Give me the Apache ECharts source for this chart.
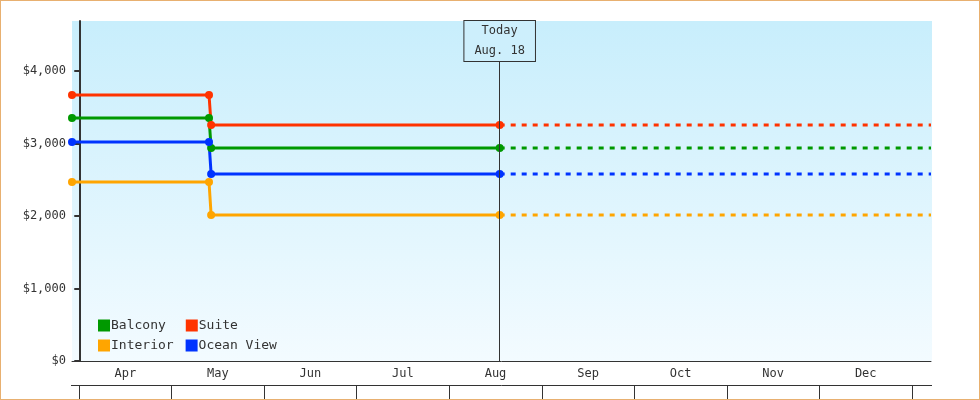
<!DOCTYPE html>
<html><head><meta charset="utf-8">
<script src="https://cdn.jsdelivr.net/npm/echarts@6/dist/echarts.min.js"></script>
<style>html,body{margin:0;padding:0;background:#fff}#c{width:978px;height:398px;border:1px solid #e8b070}</style>
</head><body><div id="c"></div>
<script>
// x values are days counted from Apr 1
const months = ['Apr','May','Jun','Jul','Aug','Sep','Oct','Nov','Dec'];
const xMin = -2.4, xMax = 281.6, today = 139, dropA = 42.9, dropB = 43.6;
const names = ['Balcony','Suite','Interior','Ocean View'];
const colors = ['#009900','#ff3300','#ffa500','#0033ff'];
const before = [3352, 3669, 2469, 3021];
const after = [2938, 3255, 2014, 2579];
const yTicks = [0,1000,2000,3000,4000];
const font = 'DejaVu Sans Mono';

const series = [];
names.forEach((n,i)=>{
  series.push({name:n,type:'line',xAxisIndex:0,yAxisIndex:0,color:colors[i],
    data:[[xMin,before[i]],[dropA,before[i]],[dropB,after[i]],[today,after[i]]],
    symbol:'circle',symbolSize:8,lineStyle:{width:3,color:colors[i]},itemStyle:{color:colors[i]},z:3});
  series.push({name:n,type:'line',xAxisIndex:0,yAxisIndex:0,color:colors[i],
    data:[[today,after[i]],[xMax,after[i]]],showSymbol:false,symbol:'none',
    lineStyle:{width:3,type:[5,6],color:colors[i]},z:2});
});
series[0].markLine = {silent:true,symbol:'none',animation:false,
  lineStyle:{color:'#333',width:1,type:'solid'},
  label:{show:true,position:'end',distance:0,formatter:'Today\nAug. 18',fontFamily:font,fontSize:12,color:'#333',
    lineHeight:20,padding:[0,10,0,10],borderColor:'#333',borderWidth:1,backgroundColor:'#cdeffc'},
  data:[[{coord:[today,0]},{coord:[today,(360-60)/72.5*1000]}]]};
series.push({type:'bar',xAxisIndex:1,yAxisIndex:1,data:months.map(()=>0),silent:true});

const chart = echarts.init(document.getElementById('c'));
chart.setOption({
  animation:false,
  graphic:[{type:'rect',z:-10,shape:{x:71,y:20,width:860,height:340},
    style:{fill:new echarts.graphic.LinearGradient(0,0,0,1,[{offset:0,color:'#c8eefc'},{offset:1,color:'#f3fbff'}])}},
    {type:'line',z:10,shape:{x1:70,y1:384.5,x2:931,y2:384.5},style:{stroke:'#333',lineWidth:1}}],
  legend:[
    {data:['Balcony','Suite'],left:92,top:313,itemWidth:12,itemHeight:12,itemGap:20,icon:'rect',
     textStyle:{fontFamily:font,fontSize:13,color:'#333',padding:[0,0,0,-4]}},
    {data:['Interior','Ocean View'],left:92,top:333,itemWidth:12,itemHeight:12,itemGap:12,icon:'rect',
     textStyle:{fontFamily:font,fontSize:13,color:'#333',padding:[0,0,0,-4]}}],
  grid:[{left:71,right:48,top:20,height:340},{left:78,width:833,top:360,height:24}],
  xAxis:[
    {type:'value',gridIndex:0,min:xMin,max:xMax,axisLine:{show:true,onZero:false,lineStyle:{color:'#333',width:1}},
     axisTick:{show:false},axisLabel:{show:false},splitLine:{show:false}},
    {type:'category',gridIndex:1,data:months,position:'top',boundaryGap:true,
     axisLine:{show:false},axisTick:{show:true,inside:true,length:24,lineStyle:{color:'#333'}},
     axisLabel:{inside:true,margin:7,fontFamily:font,fontSize:12,color:'#333'}}],
  yAxis:[
    {type:'value',gridIndex:0,min:0,max:4690,interval:1000,
     axisLine:{show:true,lineStyle:{color:'#333',width:2}},axisTick:{show:true,length:5,lineStyle:{color:'#333',width:2}},
     splitLine:{show:false},
     axisLabel:{fontFamily:font,fontSize:12,color:'#333',margin:6,
       customValues:yTicks,formatter:v=>'$'+v.toLocaleString('en-US')},
     axisTick:{show:true,length:5,customValues:yTicks,lineStyle:{color:'#333',width:2}}},
    {type:'value',gridIndex:1,show:false}],
  series
});
</script></body></html>
